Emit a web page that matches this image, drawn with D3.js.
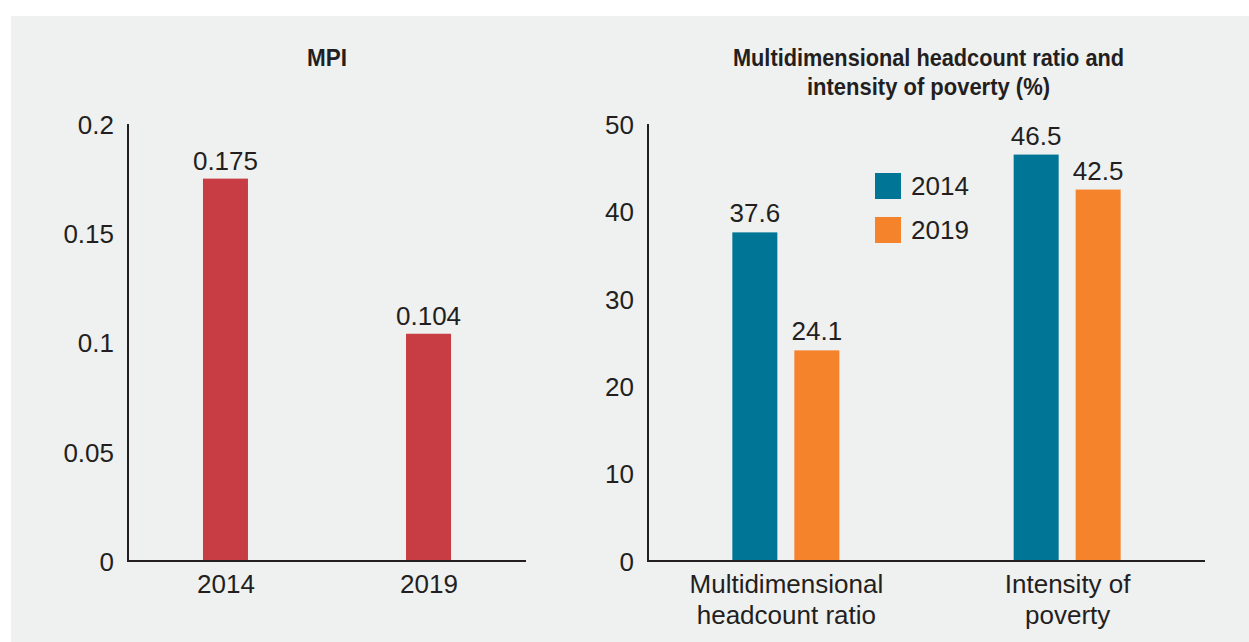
<!DOCTYPE html>
<html>
<head>
<meta charset="utf-8">
<script src="https://cdn.jsdelivr.net/npm/d3@7"></script>
<style>
  html, body { margin: 0; padding: 0; background: #ffffff; }
  svg { display: block; }
  text { font-family: "Liberation Sans", Arial, Helvetica, sans-serif; fill: #231f20; }
</style>
</head>
<body>
<svg id="chart" width="1249" height="642"></svg>
<script>
// ---- Data ----
const mpiYears = ["2014", "2019"];
const mpiValues = [0.175, 0.104];
const mpiTicks = [0, 0.05, 0.1, 0.15, 0.2];
const mpiTickLabels = ["0", "0.05", "0.1", "0.15", "0.2"];

const groupCategories = [["Multidimensional", "headcount ratio"], ["Intensity of", "poverty"]];
const groupKeys = ["H", "A"];
const seriesYears = ["2014", "2019"];
const values2014 = [37.6, 46.5];
const values2019 = [24.1, 42.5];
const pctTicks = [0, 10, 20, 30, 40, 50];

const colorMPI = "#c83d43";
const seriesColors = ["#007596", "#f5832b"];

// ---- Setup ----
const svg = d3.select("#chart");
svg.append("rect").attr("x", 11).attr("y", 16).attr("width", 1249 - 11).attr("height", 642 - 16).attr("fill", "#eff0f0");

const y0 = 561, yTop = 124;
const axisColor = "#231f20";
const fs = 26;

// ---- Left chart: MPI ----
const L = { x0: 128, x1: 526 };
const xL = d3.scalePoint().domain(mpiYears).range([L.x0, L.x1]).padding(0.48);
const yL = d3.scaleLinear().domain([0, 0.2]).range([y0, yTop]);
const barW = 45;

const gL = svg.append("g");
gL.append("text").attr("x", 327).attr("y", 66).attr("text-anchor", "middle")
  .attr("font-weight", "bold").attr("font-size", 24)
  .attr("textLength", 40).attr("lengthAdjust", "spacingAndGlyphs").text("MPI");

gL.selectAll("rect.bar").data(mpiValues).join("rect")
  .attr("x", (d, i) => xL(mpiYears[i]) - barW / 2)
  .attr("y", d => yL(d)).attr("width", barW).attr("height", d => y0 - yL(d))
  .attr("fill", colorMPI);
gL.selectAll("text.val").data(mpiValues).join("text")
  .attr("x", (d, i) => xL(mpiYears[i])).attr("y", d => yL(d) - 9)
  .attr("text-anchor", "middle").attr("font-size", fs).text(d => d3.format(".3f")(d));

const axLeftY = d3.axisLeft(yL).tickValues(mpiTicks).tickSize(0).tickPadding(14)
  .tickFormat((d, i) => mpiTickLabels[i]);
const gAy = gL.append("g").attr("transform", `translate(${L.x0},0)`).call(axLeftY);
gAy.select(".domain").remove();
gAy.selectAll("text").attr("font-size", fs).attr("font-family", null).attr("fill", axisColor).attr("dy", "0.36em");
gL.append("line").attr("x1", L.x0).attr("x2", L.x0).attr("y1", yTop).attr("y2", y0 + 1).attr("stroke", axisColor).attr("stroke-width", 2);

const axLeftX = d3.axisBottom(xL).tickSize(0).tickPadding(14);
const gAx = gL.append("g").attr("transform", `translate(0,${y0})`).call(axLeftX);
gAx.select(".domain").remove();
gAx.selectAll("text").attr("font-size", fs).attr("font-family", null).attr("fill", axisColor).attr("dy", "0.71em");
gL.append("line").attr("x1", L.x0 - 1).attr("x2", L.x1).attr("y1", y0).attr("y2", y0).attr("stroke", axisColor).attr("stroke-width", 2);

// ---- Right chart ----
const R = { x0: 648, x1: 1205 };
const xR = d3.scalePoint().domain(groupKeys).range([R.x0, R.x1]).padding(0.49);
const xSub = d3.scaleBand().domain(seriesYears).range([-53.5, 53.5]).paddingInner(0.274);
const yR = d3.scaleLinear().domain([0, 50]).range([y0, yTop]);

const gR = svg.append("g");
const titleLines = ["Multidimensional headcount ratio and", "intensity of poverty (%)"];
const titleWidths = [391, 243];
gR.selectAll("text.title").data(titleLines).join("text")
  .attr("x", 928.5).attr("y", (d, i) => 66 + i * 29).attr("text-anchor", "middle")
  .attr("font-weight", "bold").attr("font-size", 24)
  .attr("textLength", (d, i) => titleWidths[i]).attr("lengthAdjust", "spacingAndGlyphs").text(d => d);

const seriesData = [values2014, values2019];
seriesData.forEach((vals, s) => {
  gR.selectAll(`rect.s${s}`).data(vals).join("rect").attr("class", `s${s}`)
    .attr("x", (d, i) => xR(groupKeys[i]) + xSub(seriesYears[s]))
    .attr("y", d => yR(d)).attr("width", xSub.bandwidth()).attr("height", d => y0 - yR(d))
    .attr("fill", seriesColors[s]);
  gR.selectAll(`text.v${s}`).data(vals).join("text").attr("class", `v${s}`)
    .attr("x", (d, i) => xR(groupKeys[i]) + xSub(seriesYears[s]) + xSub.bandwidth() / 2)
    .attr("y", d => yR(d) - 10).attr("text-anchor", "middle").attr("font-size", fs)
    .text(d => d3.format(".1f")(d));
});

const axRightY = d3.axisLeft(yR).tickValues(pctTicks).tickSize(0).tickPadding(14);
const gRy = gR.append("g").attr("transform", `translate(${R.x0},0)`).call(axRightY);
gRy.select(".domain").remove();
gRy.selectAll("text").attr("font-size", fs).attr("font-family", null).attr("fill", axisColor).attr("dy", "0.36em");
gR.append("line").attr("x1", R.x0).attr("x2", R.x0).attr("y1", yTop).attr("y2", y0 + 1).attr("stroke", axisColor).attr("stroke-width", 2);

const axRightX = d3.axisBottom(xR).tickSize(0).tickPadding(14).tickFormat(() => "");
const gRx = gR.append("g").attr("transform", `translate(0,${y0})`).call(axRightX);
gRx.select(".domain").remove();
gRx.selectAll(".tick text").each(function(d, i) {
  const t = d3.select(this).attr("font-size", fs).attr("font-family", null).attr("fill", axisColor).attr("dy", null).attr("y", 32);
  groupCategories[i].forEach((line, j) => {
    t.append("tspan").attr("x", 0).attr("dy", j === 0 ? 0 : 31).text(line);
  });
});
gR.append("line").attr("x1", R.x0 - 1).attr("x2", R.x1).attr("y1", y0).attr("y2", y0).attr("stroke", axisColor).attr("stroke-width", 2);

// ---- Legend ----
const legend = gR.append("g");
seriesYears.forEach((yr, i) => {
  legend.append("rect").attr("x", 875).attr("y", 173 + i * 44).attr("width", 26).attr("height", 26).attr("fill", seriesColors[i]);
  legend.append("text").attr("x", 911).attr("y", 195 + i * 44).attr("font-size", fs).text(yr);
});
</script>
</body>
</html>
